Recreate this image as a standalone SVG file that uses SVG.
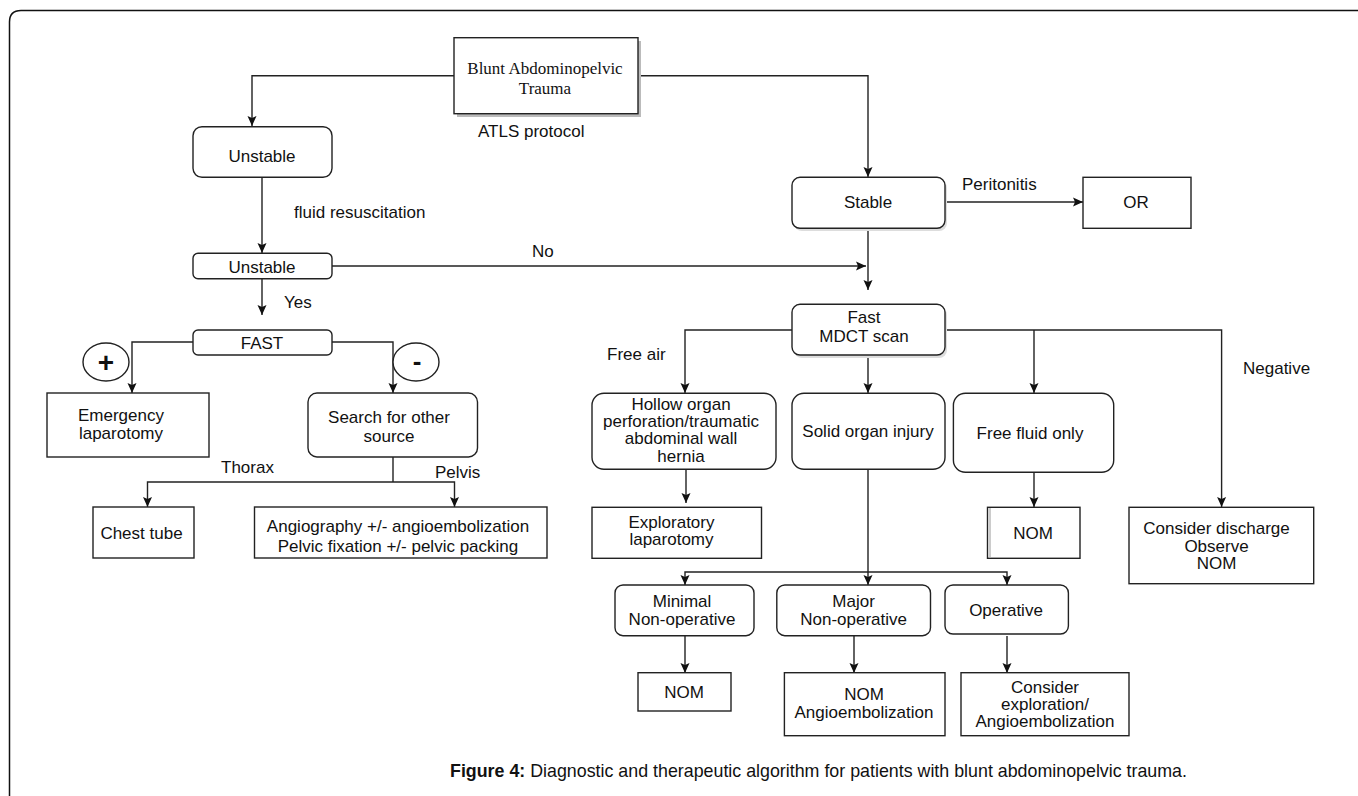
<svg xmlns="http://www.w3.org/2000/svg" width="1358" height="796" viewBox="0 0 1358 796">
<style>
.box{fill:#fff;stroke:#222;stroke-width:1.4}
.sh{fill:#bbb;stroke:none}
.sh2{fill:#ddd;stroke:none}
.t{font-family:"Liberation Sans",Arial,sans-serif;font-size:17px;fill:#111;text-anchor:middle}
.l{font-family:"Liberation Sans",Arial,sans-serif;font-size:17px;fill:#111}
.c{fill:none;stroke:#222;stroke-width:1.4}
.ca{fill:none;stroke:#222;stroke-width:1.4;marker-end:url(#ah)}
</style>
<defs>
<marker id="ah" markerWidth="10" markerHeight="10" refX="10" refY="5" orient="auto" markerUnits="userSpaceOnUse">
<path d="M0,0.5 L10,5 L0,9.5 L2,5 z" fill="#111"/>
</marker>
</defs>
<rect width="1358" height="796" fill="#fff"/>
<path d="M9.5 796 L9.5 22 Q9.5 10.5 21 10.5 L1358 10.5" fill="none" stroke="#111" stroke-width="1.5"/>

<g id="connectors">
<path class="ca" d="M454 75.7 H252 V126"/>
<path class="ca" d="M638 75.7 H868 V177"/>
<path class="ca" d="M262 177.5 V253"/>
<path class="ca" d="M332 266 H866"/>
<path class="ca" d="M262 279 V315"/>
<path class="ca" d="M193 342 H132 V393"/>
<path class="ca" d="M332 342 H393 V393"/>
<path class="c" d="M393 457 V482"/>
<path class="ca" d="M393 482 H147.5 V507"/>
<path class="ca" d="M393 482 H454.5 V507"/>
<path class="ca" d="M945 202 H1083"/>
<path class="ca" d="M868 228.5 V290"/>
<path class="ca" d="M792 330 H685 V393"/>
<path class="ca" d="M868 355 V393"/>
<path class="ca" d="M945 330 H1221.6 V507"/>
<path class="ca" d="M1034 330 V393"/>
<path class="ca" d="M686 469.5 V503"/>
<path class="ca" d="M868 469.5 V585"/>
<path class="ca" d="M868 572 H685 V585"/>
<path class="ca" d="M868 572 H1007 V585"/>
<path class="ca" d="M1034 472.5 V507"/>
<path class="ca" d="M685 636 V673"/>
<path class="ca" d="M854 636 V673"/>
<path class="ca" d="M1007 636 V673"/>
</g>

<g id="labels">
<text class="l" x="478" y="137">ATLS protocol</text>
<text class="l" x="294" y="218">fluid resuscitation</text>
<text class="l" x="532" y="257">No</text>
<text class="l" x="284" y="308">Yes</text>
<text class="l" x="221" y="473">Thorax</text>
<text class="l" x="435" y="478">Pelvis</text>
<text class="l" x="962" y="190">Peritonitis</text>
<text class="l" x="607" y="360">Free air</text>
<text class="l" x="1243" y="374">Negative</text>
</g>

<g id="n-blunt">
<rect class="sh" x="457" y="41" width="184" height="76"/>
<rect class="box" x="454" y="37.7" width="184" height="76"/>
<text x="545" y="74" text-anchor="middle" font-family="'Liberation Serif','Times New Roman',serif" font-size="17" fill="#111">Blunt Abdominopelvic</text>
<text x="545" y="94" text-anchor="middle" font-family="'Liberation Serif','Times New Roman',serif" font-size="17" fill="#111">Trauma</text>
</g>

<g id="n-unstable1">
<rect class="box" x="193" y="126.7" width="139" height="50.6" rx="9"/>
<text class="t" x="262" y="161.5">Unstable</text>
</g>

<g id="n-unstable2">
<rect class="box" x="193" y="253.3" width="139" height="25.4" rx="5"/>
<text class="t" x="262" y="272.5">Unstable</text>
</g>

<g id="n-fast">
<rect class="box" x="193" y="330" width="139" height="25" rx="5"/>
<text class="t" x="262" y="348.5">FAST</text>
</g>

<g id="n-plus">
<ellipse class="box" cx="106" cy="362" rx="23" ry="19"/>
<text x="106" y="372" text-anchor="middle" font-family="'Liberation Sans',Arial,sans-serif" font-size="28" font-weight="bold" fill="#111">+</text>
</g>

<g id="n-minus">
<ellipse class="box" cx="416" cy="362" rx="23" ry="19"/>
<text x="417" y="370" text-anchor="middle" font-family="'Liberation Sans',Arial,sans-serif" font-size="26" font-weight="bold" fill="#111">-</text>
</g>

<g id="n-emergency">
<rect class="box" x="47" y="393" width="162" height="64"/>
<text class="t" x="121" y="420.5">Emergency</text>
<text class="t" x="121" y="439">laparotomy</text>
</g>

<g id="n-search">
<rect class="box" x="308" y="393" width="169.5" height="64" rx="9"/>
<text class="t" x="389" y="422.5">Search for other</text>
<text class="t" x="389" y="442">source</text>
</g>

<g id="n-chest">
<rect class="box" x="93" y="507" width="101" height="51"/>
<text class="t" x="141.5" y="539">Chest tube</text>
</g>

<g id="n-angio">
<rect class="box" x="254.5" y="507" width="292.5" height="51"/>
<text class="t" x="398" y="531.5">Angiography +/- angioembolization</text>
<text class="t" x="398" y="551.5">Pelvic fixation +/- pelvic packing</text>
</g>

<g id="n-stable">
<rect class="sh2" x="794" y="180" width="153" height="51" rx="8"/>
<rect class="box" x="792" y="177.3" width="153" height="51" rx="8"/>
<text class="t" x="868" y="208">Stable</text>
</g>

<g id="n-or">
<rect class="box" x="1083" y="177.3" width="108" height="51"/>
<text class="t" x="1136" y="208">OR</text>
</g>

<g id="n-mdct">
<rect class="sh2" x="794" y="307" width="153" height="51" rx="8"/>
<rect class="box" x="792" y="304.3" width="153" height="50.7" rx="8"/>
<text class="t" x="864" y="322.7">Fast</text>
<text class="t" x="864" y="342.3">MDCT scan</text>
</g>

<g id="n-hollow">
<rect class="box" x="592" y="393.3" width="184" height="76" rx="12"/>
<text class="t" x="681" y="409.7">Hollow organ</text>
<text class="t" x="681" y="427">perforation/traumatic</text>
<text class="t" x="681" y="444.3">abdominal wall</text>
<text class="t" x="681" y="461.7">hernia</text>
</g>

<g id="n-solid">
<rect class="box" x="792" y="393.3" width="153" height="76" rx="12"/>
<text class="t" x="868" y="437">Solid organ injury</text>
</g>

<g id="n-freefluid">
<rect class="box" x="953.4" y="393.3" width="160.3" height="79" rx="12"/>
<text class="t" x="1030" y="439">Free fluid only</text>
</g>

<g id="n-exploratory">
<rect class="box" x="592" y="507.3" width="169.5" height="51"/>
<text class="t" x="671.5" y="527.7">Exploratory</text>
<text class="t" x="671.5" y="545">laparotomy</text>
</g>

<g id="n-nom-fluid">
<rect class="box" x="987.5" y="507.3" width="92.5" height="51"/>
<line x1="990" y1="508" x2="990" y2="558" stroke="#aaa" stroke-width="1.2"/>
<text class="t" x="1033" y="539">NOM</text>
</g>

<g id="n-discharge">
<rect class="box" x="1129" y="507.3" width="184.7" height="76.4"/>
<text class="t" x="1216.5" y="534">Consider discharge</text>
<text class="t" x="1216.5" y="551.7">Observe</text>
<text class="t" x="1216.5" y="568.7">NOM</text>
</g>

<g id="n-minimal">
<rect class="box" x="615" y="585" width="139" height="50.7" rx="8"/>
<text class="t" x="682" y="606.7">Minimal</text>
<text class="t" x="682" y="625">Non-operative</text>
</g>

<g id="n-major">
<rect class="box" x="776.8" y="585" width="153.7" height="50.7" rx="8"/>
<text class="t" x="853.6" y="606.7">Major</text>
<text class="t" x="853.6" y="625">Non-operative</text>
</g>

<g id="n-operative">
<rect class="box" x="945" y="585" width="123.4" height="49" rx="8"/>
<text class="t" x="1006" y="616">Operative</text>
</g>

<g id="n-nom-min">
<rect class="box" x="638" y="672.7" width="93" height="38.3"/>
<text class="t" x="684" y="697.7">NOM</text>
</g>

<g id="n-nom-angio">
<rect class="box" x="784.4" y="672.7" width="160.6" height="63"/>
<text class="t" x="864" y="700">NOM</text>
<text class="t" x="864" y="718.3">Angioembolization</text>
</g>

<g id="n-consider">
<rect class="box" x="961" y="672.7" width="168" height="63"/>
<text class="t" x="1045" y="693.3">Consider</text>
<text class="t" x="1045" y="710">exploration/</text>
<text class="t" x="1045" y="726.7">Angioembolization</text>
</g>

<g id="caption">
<text x="450" y="777" font-family="'Liberation Sans',Arial,sans-serif" font-size="18.5" fill="#111" textLength="737" lengthAdjust="spacingAndGlyphs"><tspan font-weight="bold">Figure 4:</tspan>  Diagnostic and therapeutic algorithm for patients with blunt abdominopelvic trauma.</text>
</g>
</svg>
